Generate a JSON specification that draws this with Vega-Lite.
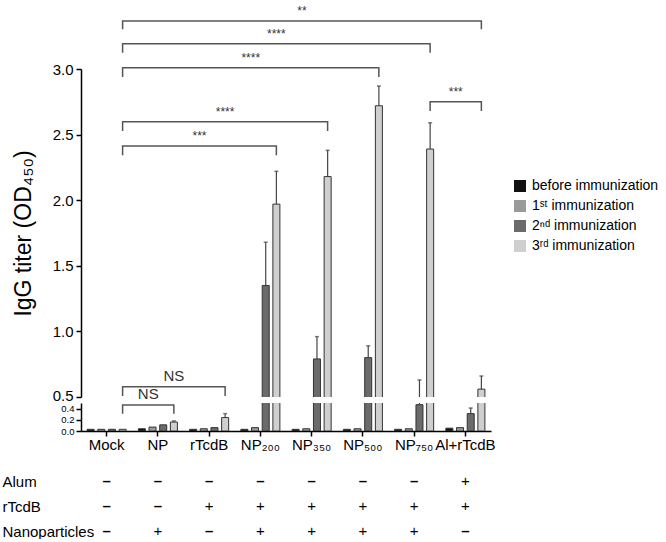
{
  "$schema": "https://vega.github.io/schema/vega-lite/v6.json",
  "padding": {"top": 4, "left": 2, "right": 0, "bottom": 0},
  "bounds": "flush",
  "spacing": 6,
  "config": {
    "font": "Liberation Sans",
    "view": {"stroke": null},
    "axis": {"domainColor": "#000", "tickColor": "#000", "labelColor": "#000", "titleColor": "#000", "grid": false}
  },
  "resolve": {"scale": {"color": "independent"}, "legend": {"color": "independent"}},
  "datasets": {
    "bars": [
      {"group": "Mock", "series": "before immunization", "value": 0.03},
      {"group": "Mock", "series": "1ˢᵗ immunization", "value": 0.03},
      {"group": "Mock", "series": "2ⁿᵈ immunization", "value": 0.03},
      {"group": "Mock", "series": "3ʳᵈ immunization", "value": 0.03},
      {"group": "NP", "series": "before immunization", "value": 0.04},
      {"group": "NP", "series": "1ˢᵗ immunization", "value": 0.07},
      {"group": "NP", "series": "2ⁿᵈ immunization", "value": 0.11},
      {"group": "NP", "series": "3ʳᵈ immunization", "value": 0.16, "upper": 0.18},
      {"group": "rTcdB", "series": "before immunization", "value": 0.03},
      {"group": "rTcdB", "series": "1ˢᵗ immunization", "value": 0.04},
      {"group": "rTcdB", "series": "2ⁿᵈ immunization", "value": 0.06},
      {"group": "rTcdB", "series": "3ʳᵈ immunization", "value": 0.24, "upper": 0.31},
      {"group": "NP₂₀₀", "series": "before immunization", "value": 0.03},
      {"group": "NP₂₀₀", "series": "1ˢᵗ immunization", "value": 0.06},
      {"group": "NP₂₀₀", "series": "2ⁿᵈ immunization", "value": 1.35, "upper": 1.68},
      {"group": "NP₂₀₀", "series": "3ʳᵈ immunization", "value": 1.97, "upper": 2.22},
      {"group": "NP₃₅₀", "series": "before immunization", "value": 0.03},
      {"group": "NP₃₅₀", "series": "1ˢᵗ immunization", "value": 0.04},
      {"group": "NP₃₅₀", "series": "2ⁿᵈ immunization", "value": 0.79, "upper": 0.96},
      {"group": "NP₃₅₀", "series": "3ʳᵈ immunization", "value": 2.18, "upper": 2.38},
      {"group": "NP₅₀₀", "series": "before immunization", "value": 0.03},
      {"group": "NP₅₀₀", "series": "1ˢᵗ immunization", "value": 0.04},
      {"group": "NP₅₀₀", "series": "2ⁿᵈ immunization", "value": 0.8, "upper": 0.89},
      {"group": "NP₅₀₀", "series": "3ʳᵈ immunization", "value": 2.72, "upper": 2.87},
      {"group": "NP₇₅₀", "series": "before immunization", "value": 0.03},
      {"group": "NP₇₅₀", "series": "1ˢᵗ immunization", "value": 0.04},
      {"group": "NP₇₅₀", "series": "2ⁿᵈ immunization", "value": 0.47, "upper": 0.63},
      {"group": "NP₇₅₀", "series": "3ʳᵈ immunization", "value": 2.39, "upper": 2.59},
      {"group": "Al+rTcdB", "series": "before immunization", "value": 0.05},
      {"group": "Al+rTcdB", "series": "1ˢᵗ immunization", "value": 0.06},
      {"group": "Al+rTcdB", "series": "2ⁿᵈ immunization", "value": 0.31, "upper": 0.41},
      {"group": "Al+rTcdB", "series": "3ʳᵈ immunization", "value": 0.56, "upper": 0.66}
    ],
    "brk": [
      {"id": 1, "o": 1, "group": "Mock", "v": 3.303}, {"id": 1, "o": 2, "group": "Mock", "v": 3.366},
      {"id": 1, "o": 3, "group": "Al+rTcdB", "v": 3.366}, {"id": 1, "o": 4, "group": "Al+rTcdB", "v": 3.303},
      {"id": 2, "o": 1, "group": "Mock", "v": 3.124}, {"id": 2, "o": 2, "group": "Mock", "v": 3.193},
      {"id": 2, "o": 3, "group": "NP₇₅₀", "v": 3.193}, {"id": 2, "o": 4, "group": "NP₇₅₀", "v": 3.124},
      {"id": 3, "o": 1, "group": "Mock", "v": 2.939}, {"id": 3, "o": 2, "group": "Mock", "v": 3.01},
      {"id": 3, "o": 3, "group": "NP₅₀₀", "v": 3.01}, {"id": 3, "o": 4, "group": "NP₅₀₀", "v": 2.939},
      {"id": 4, "o": 1, "group": "NP₇₅₀", "v": 2.68}, {"id": 4, "o": 2, "group": "NP₇₅₀", "v": 2.751},
      {"id": 4, "o": 3, "group": "Al+rTcdB", "v": 2.751}, {"id": 4, "o": 4, "group": "Al+rTcdB", "v": 2.68},
      {"id": 5, "o": 1, "group": "Mock", "v": 2.527}, {"id": 5, "o": 2, "group": "Mock", "v": 2.598},
      {"id": 5, "o": 3, "group": "NP₃₅₀", "v": 2.598}, {"id": 5, "o": 4, "group": "NP₃₅₀", "v": 2.527},
      {"id": 6, "o": 1, "group": "Mock", "v": 2.342}, {"id": 6, "o": 2, "group": "Mock", "v": 2.413},
      {"id": 6, "o": 3, "group": "NP₂₀₀", "v": 2.413}, {"id": 6, "o": 4, "group": "NP₂₀₀", "v": 2.342},
      {"id": 7, "o": 1, "group": "Mock", "v": 0.508}, {"id": 7, "o": 2, "group": "Mock", "v": 0.579},
      {"id": 7, "o": 3, "group": "rTcdB", "v": 0.579}, {"id": 7, "o": 4, "group": "rTcdB", "v": 0.508}
    ],
    "lab": [
      {"mid": "NP₃₅₀", "between": true, "v": 3.366, "label": "**"},
      {"mid": "NP₂₀₀", "between": false, "v": 3.193, "label": "****"},
      {"mid": "NP₂₀₀", "between": true, "v": 3.01, "label": "****"},
      {"mid": "Al+rTcdB", "between": true, "v": 2.751, "label": "***"},
      {"mid": "rTcdB", "between": false, "v": 2.598, "label": "****"},
      {"mid": "rTcdB", "between": true, "v": 2.413, "label": "***"},
      {"mid": "NP", "between": false, "v": 0.579, "label": "NS"}
    ],
    "brk2": [
      {"id": 8, "o": 1, "group": "Mock", "v": 0.309}, {"id": 8, "o": 2, "group": "Mock", "v": 0.464},
      {"id": 8, "o": 3, "group": "NP", "v": 0.464}, {"id": 8, "o": 4, "group": "NP", "v": 0.309}
    ],
    "lab2": [
      {"mid": "NP", "between": true, "v": 0.464, "label": "NS"}
    ],
    "table": [
      {"group": "Mock", "row": "Alum", "sign": "–"}, {"group": "NP", "row": "Alum", "sign": "–"},
      {"group": "rTcdB", "row": "Alum", "sign": "–"}, {"group": "NP₂₀₀", "row": "Alum", "sign": "–"},
      {"group": "NP₃₅₀", "row": "Alum", "sign": "–"}, {"group": "NP₅₀₀", "row": "Alum", "sign": "–"},
      {"group": "NP₇₅₀", "row": "Alum", "sign": "–"}, {"group": "Al+rTcdB", "row": "Alum", "sign": "+"},
      {"group": "Mock", "row": "rTcdB", "sign": "–"}, {"group": "NP", "row": "rTcdB", "sign": "–"},
      {"group": "rTcdB", "row": "rTcdB", "sign": "+"}, {"group": "NP₂₀₀", "row": "rTcdB", "sign": "+"},
      {"group": "NP₃₅₀", "row": "rTcdB", "sign": "+"}, {"group": "NP₅₀₀", "row": "rTcdB", "sign": "+"},
      {"group": "NP₇₅₀", "row": "rTcdB", "sign": "+"}, {"group": "Al+rTcdB", "row": "rTcdB", "sign": "+"},
      {"group": "Mock", "row": "Nanoparticles", "sign": "–"}, {"group": "NP", "row": "Nanoparticles", "sign": "+"},
      {"group": "rTcdB", "row": "Nanoparticles", "sign": "–"}, {"group": "NP₂₀₀", "row": "Nanoparticles", "sign": "+"},
      {"group": "NP₃₅₀", "row": "Nanoparticles", "sign": "+"}, {"group": "NP₅₀₀", "row": "Nanoparticles", "sign": "+"},
      {"group": "NP₇₅₀", "row": "Nanoparticles", "sign": "+"}, {"group": "Al+rTcdB", "row": "Nanoparticles", "sign": "–"}
    ]
  },
  "vconcat": [
    {
      "width": 410,
      "height": 328,
      "layer": [
        {
          "data": {"name": "bars"},
          "mark": {"type": "bar", "clip": true, "stroke": "#333", "strokeWidth": 1},
          "encoding": {
            "x": {"field": "group", "type": "nominal", "scale": {"type": "band", "domain": ["Mock", "NP", "rTcdB", "NP₂₀₀", "NP₃₅₀", "NP₅₀₀", "NP₇₅₀", "Al+rTcdB"], "paddingInner": 0, "paddingOuter": 0}, "axis": null},
            "xOffset": {"field": "series", "type": "nominal", "scale": {"domain": ["before immunization", "1ˢᵗ immunization", "2ⁿᵈ immunization", "3ʳᵈ immunization"], "paddingInner": 0.344, "paddingOuter": 0.572}},
            "y": {"field": "value", "type": "quantitative", "scale": {"domain": [0.5, 3.0], "zero": false, "nice": false},
              "axis": {"values": [0.5, 1.0, 1.5, 2.0, 2.5, 3.0], "tickCount": 10, "format": ".1f", "labelFontSize": 15, "labelOffset": {"condition": {"test": "datum.value == 0.5", "value": -2}, "value": 0}, "tickSize": 5, "tickWidth": 1.5, "domainWidth": 1.5, "labelPadding": 3, "title": "IgG titer (OD₄₅₀)", "titleFontSize": 23, "titleFontWeight": "normal", "titlePadding": 17}},
            "color": {"field": "series", "type": "nominal",
              "scale": {"domain": ["before immunization", "1ˢᵗ immunization", "2ⁿᵈ immunization", "3ʳᵈ immunization"], "range": ["#111111", "#9a9a9a", "#6b6b6b", "#cfcfcf"]},
              "legend": {"orient": "none", "legendX": 432, "legendY": 110, "title": null, "symbolType": "square", "symbolSize": 144, "symbolStrokeWidth": 0, "labelFontSize": 14, "labelColor": "#000", "rowPadding": 6, "labelOffset": 5, "padding": 0, "labelLimit": 200}}
          }
        },
        {
          "data": {"name": "bars"},
          "transform": [{"filter": "isValid(datum.upper)"}],
          "mark": {"type": "rule", "clip": true, "color": "#444", "strokeWidth": 1.2},
          "encoding": {
            "x": {"field": "group", "type": "nominal"},
            "xOffset": {"field": "series", "type": "nominal"},
            "y": {"field": "value", "type": "quantitative"},
            "y2": {"field": "upper"}
          }
        },
        {
          "data": {"name": "bars"},
          "transform": [{"filter": "isValid(datum.upper)"}],
          "mark": {"type": "tick", "clip": true, "color": "#444", "thickness": 1.5, "size": 4},
          "encoding": {
            "x": {"field": "group", "type": "nominal"},
            "xOffset": {"field": "series", "type": "nominal"},
            "y": {"field": "upper", "type": "quantitative"}
          }
        },
        {
          "data": {"name": "brk"},
          "mark": {"type": "line", "color": "#555", "strokeWidth": 1.5},
          "encoding": {
            "x": {"field": "group", "type": "nominal", "bandPosition": 0.812},
            "y": {"field": "v", "type": "quantitative"},
            "detail": {"field": "id"},
            "order": {"field": "o"}
          }
        },
        {
          "data": {"name": "lab"},
          "transform": [{"filter": "!datum.between"}],
          "mark": {"type": "text", "baseline": "bottom", "dy": -3, "color": "#333"},
          "encoding": {
            "x": {"field": "mid", "type": "nominal", "bandPosition": 0.812},
            "y": {"field": "v", "type": "quantitative"},
            "text": {"field": "label"},
            "size": {"condition": {"test": "datum.label == 'NS'", "value": 15}, "value": 12}
          }
        },
        {
          "data": {"name": "lab"},
          "transform": [{"filter": "datum.between"}],
          "mark": {"type": "text", "baseline": "bottom", "dy": -3, "color": "#333"},
          "encoding": {
            "x": {"field": "mid", "type": "nominal", "bandPosition": 0.312},
            "y": {"field": "v", "type": "quantitative"},
            "text": {"field": "label"},
            "size": {"condition": {"test": "datum.label == 'NS'", "value": 15}, "value": 12}
          }
        }
      ]
    },
    {
      "width": 410,
      "height": 28,
      "layer": [
        {
          "data": {"name": "bars"},
          "mark": {"type": "bar", "clip": true, "stroke": "#333", "strokeWidth": 1},
          "encoding": {
            "x": {"field": "group", "type": "nominal", "scale": {"type": "band", "domain": ["Mock", "NP", "rTcdB", "NP₂₀₀", "NP₃₅₀", "NP₅₀₀", "NP₇₅₀", "Al+rTcdB"], "paddingInner": 0, "paddingOuter": 0},
              "axis": {"title": null, "labelFontSize": 15, "labelAngle": 0, "tickSize": 5, "tickWidth": 1.5, "domainWidth": 1.5, "labelPadding": 1}},
            "xOffset": {"field": "series", "type": "nominal", "scale": {"domain": ["before immunization", "1ˢᵗ immunization", "2ⁿᵈ immunization", "3ʳᵈ immunization"], "paddingInner": 0.344, "paddingOuter": 0.572}},
            "y": {"field": "value", "type": "quantitative", "scale": {"domain": [0, 0.5], "nice": false, "zero": true},
              "axis": {"values": [0, 0.2, 0.4], "tickCount": 10, "format": ".1f", "labelOverlap": false, "labelFontSize": 9.5, "tickSize": 5, "tickWidth": 1.5, "domainWidth": 1.5, "labelPadding": 2, "title": null}},
            "color": {"field": "series", "type": "nominal",
              "scale": {"domain": ["before immunization", "1ˢᵗ immunization", "2ⁿᵈ immunization", "3ʳᵈ immunization"], "range": ["#111111", "#9a9a9a", "#6b6b6b", "#cfcfcf"]},
              "legend": null}
          }
        },
        {
          "data": {"name": "bars"},
          "transform": [{"filter": "isValid(datum.upper)"}],
          "mark": {"type": "rule", "clip": true, "color": "#444", "strokeWidth": 1.2},
          "encoding": {
            "x": {"field": "group", "type": "nominal"},
            "xOffset": {"field": "series", "type": "nominal"},
            "y": {"field": "value", "type": "quantitative"},
            "y2": {"field": "upper"}
          }
        },
        {
          "data": {"name": "bars"},
          "transform": [{"filter": "isValid(datum.upper)"}],
          "mark": {"type": "tick", "clip": true, "color": "#444", "thickness": 1.5, "size": 4},
          "encoding": {
            "x": {"field": "group", "type": "nominal"},
            "xOffset": {"field": "series", "type": "nominal"},
            "y": {"field": "upper", "type": "quantitative"}
          }
        },
        {
          "data": {"name": "brk2"},
          "mark": {"type": "line", "color": "#555", "strokeWidth": 1.5},
          "encoding": {
            "x": {"field": "group", "type": "nominal", "bandPosition": 0.812},
            "y": {"field": "v", "type": "quantitative"},
            "detail": {"field": "id"},
            "order": {"field": "o"}
          }
        },
        {
          "data": {"name": "lab2"},
          "mark": {"type": "text", "baseline": "bottom", "dy": -3, "color": "#333", "fontSize": 15},
          "encoding": {
            "x": {"field": "mid", "type": "nominal", "bandPosition": 0.312},
            "y": {"field": "v", "type": "quantitative"},
            "text": {"field": "label"}
          }
        }
      ]
    },
    {
      "width": 410,
      "height": 100,
      "data": {"name": "table"},
      "encoding": {
        "x": {"field": "group", "type": "nominal", "scale": {"type": "band", "domain": ["Mock", "NP", "rTcdB", "NP₂₀₀", "NP₃₅₀", "NP₅₀₀", "NP₇₅₀", "Al+rTcdB"], "paddingInner": 0, "paddingOuter": 0}, "axis": null},
        "y": {"field": "row", "type": "nominal", "scale": {"type": "point", "domain": ["Alum", "rTcdB", "Nanoparticles"], "range": [44, 94], "padding": 0},
          "axis": {"title": null, "domain": false, "ticks": false, "tickSize": 0, "labelAlign": "left", "labelPadding": 79, "labelFontSize": 15, "labelColor": "#000"}},
        "text": {"field": "sign"}
      },
      "layer": [
        {"transform": [{"filter": "datum.sign == '+'"}], "mark": {"type": "text", "fontSize": 15, "color": "#000"}},
        {"transform": [{"filter": "datum.sign != '+'"}], "mark": {"type": "text", "fontSize": 15, "color": "#000", "fontWeight": "bold"}}
      ]
    }
  ]
}
